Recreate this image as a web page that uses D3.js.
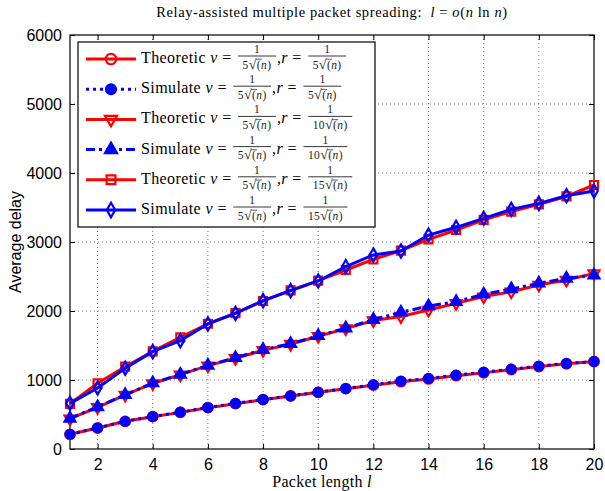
<!DOCTYPE html>
<html>
<head>
<meta charset="utf-8">
<script src="https://d3js.org/d3.v7.min.js"></script>
<style>
  body { margin: 0; background: #fff; }
  text { white-space: pre; }
</style>
</head>
<body>
<script>
// packet length l
var packetLength = [1,2,3,4,5,6,7,8,9,10,11,12,13,14,15,16,17,18,19,20];
// average delay
var theo5  = [213,304,401,468,531,599,657,715,768,821,874,925,975,1015,1062,1105,1150,1195,1235,1268];
var sim5   = [213,306,400,470,533,601,660,717,770,823,876,930,985,1022,1070,1113,1156,1200,1240,1266];
var theo10 = [440,604,783,950,1077,1208,1315,1430,1520,1635,1745,1862,1920,2014,2111,2208,2280,2377,2449,2545];
var sim10  = [444,610,785,955,1080,1212,1322,1440,1525,1640,1752,1875,1981,2072,2135,2242,2319,2401,2473,2517];
var theo15 = [655,952,1193,1415,1619,1815,1970,2145,2300,2440,2594,2749,2875,3039,3174,3320,3440,3545,3660,3826];
var sim15  = [662,884,1169,1411,1570,1812,1966,2150,2295,2435,2643,2812,2870,3101,3213,3343,3473,3560,3671,3739];
var xTicks = [2,4,6,8,10,12,14,16,18,20];
var yTicks = [0,1000,2000,3000,4000,5000,6000];

var series = [
  {name: "Theoretic", r: "5",  vals: theo5,  color: "red",  dash: null,      sym: d3.symbolCircle,   size: 72, rot: 0,   fill: "none"},
  {name: "Simulate",  r: "5",  vals: sim5,   color: "blue", dash: "3,4",     sym: d3.symbolCircle,   size: 64, rot: 0,   fill: "blue"},
  {name: "Theoretic", r: "10", vals: theo10, color: "red",  dash: null,      sym: d3.symbolTriangle, size: 52, rot: 180, fill: "none"},
  {name: "Simulate",  r: "10", vals: sim10,  color: "blue", dash: "9,4,3,4", sym: d3.symbolTriangle, size: 52, rot: 0,   fill: "blue"},
  {name: "Theoretic", r: "15", vals: theo15, color: "red",  dash: null,      sym: d3.symbolSquare,   size: 64, rot: 0,   fill: "none"},
  {name: "Simulate",  r: "15", vals: sim15,  color: "blue", dash: null,      sym: d3.symbolDiamond,  size: 50, rot: 0,   fill: "none"}
];

var W = 605, H = 491;
var pl = 70, pr = 594, pt = 35, pb = 449;

var svg = d3.select("body").append("svg")
  .attr("width", W).attr("height", H);

var x = d3.scaleLinear().domain([1, 20]).range([pl, pr]);
var y = d3.scaleLinear().domain([0, 6000]).range([pb, pt]);

var serif = "'Liberation Serif', 'DejaVu Serif', serif";
var sans = "'Liberation Sans', Arial, sans-serif";

// grid
var grid = svg.append("g").attr("stroke", "#555").attr("stroke-width", 0.8)
  .attr("stroke-dasharray", "1,3");
xTicks.forEach(function (t) {
  if (t < 20) grid.append("line").attr("x1", x(t)).attr("x2", x(t)).attr("y1", pt).attr("y2", pb);
});
yTicks.forEach(function (t) {
  if (t > 0 && t < 6000) grid.append("line").attr("x1", pl).attr("x2", pr).attr("y1", y(t)).attr("y2", y(t));
});

// axes (inward ticks on all four sides)
var xAxis = d3.axisBottom(x).tickValues(xTicks).tickSizeInner(-5).tickSizeOuter(0).tickPadding(10);
var yAxis = d3.axisLeft(y).tickValues(yTicks).tickSizeInner(-5).tickSizeOuter(0).tickPadding(8)
  .tickFormat(d3.format("d"));
var gx = svg.append("g").attr("transform", "translate(0," + pb + ")").call(xAxis);
var gy = svg.append("g").attr("transform", "translate(" + pl + ",0)").call(yAxis);
svg.append("g").attr("transform", "translate(0," + pt + ")")
  .call(d3.axisTop(x).tickValues(xTicks).tickSizeInner(-5).tickSizeOuter(0).tickFormat(""));
svg.append("g").attr("transform", "translate(" + pr + ",0)")
  .call(d3.axisRight(y).tickValues(yTicks).tickSizeInner(-5).tickSizeOuter(0).tickFormat(""));
svg.selectAll(".domain").attr("stroke", "none");
svg.selectAll(".tick line").attr("stroke", "#000");
svg.selectAll(".tick text").attr("font-family", sans).attr("font-size", 16).attr("fill", "#000");

svg.append("rect").attr("x", pl).attr("y", pt)
  .attr("width", pr - pl).attr("height", pb - pt)
  .attr("fill", "none").attr("stroke", "#000").attr("stroke-width", 1.2);

// data
var line = d3.line().x(function (d, i) { return x(packetLength[i]); }).y(function (d) { return y(d); });

series.forEach(function (s) {
  var g = svg.append("g");
  g.append("path").datum(s.vals).attr("d", line)
    .attr("fill", "none").attr("stroke", s.color).attr("stroke-width", 3)
    .attr("stroke-dasharray", s.dash);
  g.selectAll("path.m").data(s.vals).enter().append("path").attr("class", "m")
    .attr("d", d3.symbol().type(s.sym).size(s.size))
    .attr("transform", function (d, i) {
      return "translate(" + x(packetLength[i]) + "," + y(d) + ") rotate(" + s.rot + ")";
    })
    .attr("fill", s.fill).attr("stroke", s.color).attr("stroke-width", 2.2);
});

// title and axis labels
var title = svg.append("text").attr("x", (pl + pr) / 2).attr("y", 17)
  .attr("text-anchor", "middle").attr("font-family", serif).attr("font-size", 14.5)
  .attr("letter-spacing", 0.6);
title.append("tspan").text("Relay-assisted multiple packet spreading:  ");
title.append("tspan").attr("font-style", "italic").text("l");
title.append("tspan").text(" = ");
title.append("tspan").attr("font-style", "italic").text("o");
title.append("tspan").text("(");
title.append("tspan").attr("font-style", "italic").text("n");
title.append("tspan").text(" ln ");
title.append("tspan").attr("font-style", "italic").text("n");
title.append("tspan").text(")");

var xl = svg.append("text").attr("x", (pl + pr) / 2 - 10).attr("y", 487)
  .attr("text-anchor", "middle").attr("font-family", serif).attr("font-size", 16)
  .attr("letter-spacing", 0.3);
xl.append("tspan").text("Packet length ");
xl.append("tspan").attr("font-style", "italic").text("l");

svg.append("text").attr("transform", "translate(21," + ((pt + pb) / 2) + ") rotate(-90)")
  .attr("text-anchor", "middle").attr("font-family", sans).attr("font-size", 16)
  .text("Average delay");

// legend
var lg = svg.append("g");
lg.append("rect").attr("x", 78).attr("y", 42).attr("width", 297).attr("height", 185)
  .attr("fill", "#fff").attr("stroke", "#000").attr("stroke-width", 1.2);

function addText(g, xPos, yPos, str, size, italic) {
  var t = g.append("text").attr("x", xPos).attr("y", yPos)
    .attr("font-family", serif).attr("font-size", size).attr("letter-spacing", 0.4)
    .attr("font-style", italic ? "italic" : "normal").text(str);
  return xPos + t.node().getComputedTextLength();
}

function addFrac(g, xPos, barY, den) {
  var fs = 11.5;
  var d = g.append("text").attr("y", barY + 12.5).attr("font-family", serif).attr("font-size", fs)
    .attr("fill", "#222").attr("letter-spacing", 0.4);
  d.append("tspan").text(den);
  d.append("tspan").attr("font-size", 14).text("\u221A");
  d.append("tspan").text("(");
  d.append("tspan").attr("font-style", "italic").text("n");
  d.append("tspan").text(")");
  var wDen = d.node().getComputedTextLength();
  var pre = d.node().getSubStringLength(0, den.length + 1);
  var w = wDen + 9;
  d.attr("x", xPos + 4.5);
  g.append("line").attr("x1", xPos + 4.5 + pre - 1).attr("x2", xPos + 4.5 + pre + 5)
    .attr("y1", barY + 3.2).attr("y2", barY + 3.2).attr("stroke", "#222").attr("stroke-width", 0.7);
  g.append("text").attr("x", xPos + w / 2).attr("y", barY - 3).attr("text-anchor", "middle")
    .attr("font-family", serif).attr("font-size", fs).attr("fill", "#222").text("1");
  g.append("line").attr("x1", xPos).attr("x2", xPos + w).attr("y1", barY).attr("y2", barY)
    .attr("stroke", "#000").attr("stroke-width", 0.8);
  return xPos + w;
}

series.forEach(function (s, i) {
  var barY = 56 + i * 30.2;
  var ly = barY + 3;
  var fs = 16;
  var g = lg.append("g");
  g.append("line").attr("x1", 86).attr("x2", 136).attr("y1", ly).attr("y2", ly)
    .attr("stroke", s.color).attr("stroke-width", 3).attr("stroke-dasharray", s.dash);
  g.append("path").attr("d", d3.symbol().type(s.sym).size(s.size * 1.2))
    .attr("transform", "translate(111," + ly + ") rotate(" + s.rot + ")")
    .attr("fill", s.fill).attr("stroke", s.color).attr("stroke-width", 2.2);
  var tx = addText(g, 141, ly + 4, s.name + " ", fs, false);
  tx = addText(g, tx, ly + 4, "v", fs, true);
  tx = addText(g, tx, ly + 4, " = ", fs, false);
  tx = addFrac(g, tx + 2, barY, "5");
  tx = addText(g, tx + 1, ly + 4, ",", fs, false);
  tx = addText(g, tx, ly + 4, "r", fs, true);
  tx = addText(g, tx, ly + 4, " = ", fs, false);
  addFrac(g, tx + 2, barY, s.r);
});
</script>
</body>
</html>
